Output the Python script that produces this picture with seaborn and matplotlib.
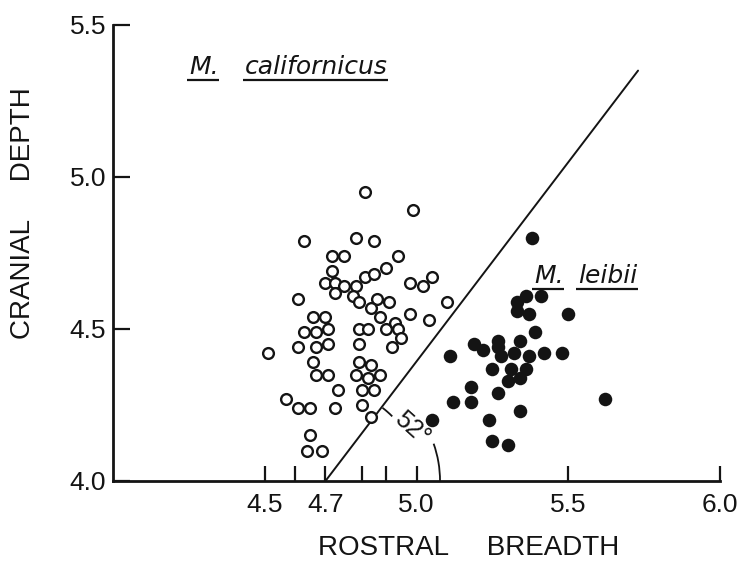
import numpy as np
import pandas as pd
import matplotlib
matplotlib.use("Agg")
import matplotlib.pyplot as plt
import seaborn as sns
from matplotlib.patches import Arc

# ---------------- data ----------------
calif_breadth = [4.83, 4.99, 4.63, 4.80, 4.86, 4.72, 4.76, 4.94, 4.72, 4.70,
                 4.73, 4.76, 4.73, 4.80, 4.79, 4.61, 4.83, 4.86, 4.90, 4.98,
                 5.02, 5.05, 4.87, 4.91, 4.81, 4.85, 4.88, 4.66, 4.70, 4.98,
                 5.04, 5.10, 4.63, 4.67, 4.71, 4.81, 4.84, 4.90, 4.93, 4.94,
                 4.95, 4.92, 4.81, 4.51, 4.61, 4.67, 4.71, 4.66, 4.81, 4.85,
                 4.80, 4.84, 4.88, 4.67, 4.71, 4.74, 4.82, 4.86, 4.57, 4.61,
                 4.65, 4.73, 4.82, 4.85, 4.65, 4.64, 4.69]
calif_depth = [4.95, 4.89, 4.79, 4.80, 4.79, 4.74, 4.74, 4.74, 4.69, 4.65,
               4.65, 4.64, 4.62, 4.64, 4.61, 4.60, 4.67, 4.68, 4.70, 4.65,
               4.64, 4.67, 4.60, 4.59, 4.59, 4.57, 4.54, 4.54, 4.54, 4.55,
               4.53, 4.59, 4.49, 4.49, 4.50, 4.50, 4.50, 4.50, 4.52, 4.50,
               4.47, 4.44, 4.45, 4.42, 4.44, 4.44, 4.45, 4.39, 4.39, 4.38,
               4.35, 4.34, 4.35, 4.35, 4.35, 4.30, 4.30, 4.30, 4.27, 4.24,
               4.24, 4.24, 4.25, 4.21, 4.15, 4.10, 4.10]

leibii_breadth = [5.38, 5.36, 5.33, 5.41, 5.33, 5.37, 5.50, 5.39, 5.19, 5.22,
                  5.27, 5.27, 5.28, 5.34, 5.32, 5.37, 5.42, 5.48, 5.11, 5.25,
                  5.31, 5.36, 5.34, 5.30, 5.18, 5.27, 5.12, 5.18, 5.62, 5.34,
                  5.24, 5.25, 5.30, 5.05]
leibii_depth = [4.80, 4.61, 4.59, 4.61, 4.56, 4.55, 4.55, 4.49, 4.45, 4.43,
                4.46, 4.44, 4.41, 4.46, 4.42, 4.41, 4.42, 4.42, 4.41, 4.37,
                4.37, 4.37, 4.34, 4.33, 4.31, 4.29, 4.26, 4.26, 4.27, 4.23,
                4.20, 4.13, 4.12, 4.20]

x_ticks = [4.5, 4.6, 4.7, 4.82, 4.9, 5.0, 5.5, 6.0]
x_tick_labels = ["4.5", "", "4.7", "", "", "5.0", "5.5", "6.0"]
y_ticks = [4.0, 4.5, 5.0, 5.5]
y_tick_labels = ["4.0", "4.5", "5.0", "5.5"]

divider_breadth = [4.7, 5.73]
divider_depth = [4.0, 5.35]
angle_label = "52°"

x_label = "ROSTRAL     BREADTH"
y_label = "CRANIAL     DEPTH"

# ---------------- plot ----------------
sns.set_theme(style="ticks")
plt.rcParams['font.family'] = ['Liberation Sans', 'DejaVu Sans']
ink = "#141414"

fig = plt.figure(figsize=(7.46, 5.62), dpi=100)
fig.patch.set_facecolor("white")
ax = fig.add_axes([113 / 746, 1 - 481 / 562, 607 / 746, 456 / 562])
ax.set_facecolor("white")

df_c = pd.DataFrame({"breadth": calif_breadth, "depth": calif_depth})
df_l = pd.DataFrame({"breadth": leibii_breadth, "depth": leibii_depth})

sns.scatterplot(data=df_c, x="breadth", y="depth", ax=ax, marker="o", s=60,
                facecolor="white", edgecolor=ink, linewidth=1.7, zorder=3,
                legend=False)
sns.scatterplot(data=df_l, x="breadth", y="depth", ax=ax, marker="o", s=95,
                color=ink, edgecolor=ink, linewidth=0, zorder=3, legend=False)

ax.plot(divider_breadth, divider_depth, color=ink, lw=1.4, zorder=2)

# angle marks
rx, ry = 1 / 302, 1 / 306
ax.add_patch(Arc((divider_breadth[0], divider_depth[0]), 2 * 114 * rx, 2 * 114 * ry,
                 theta1=0, theta2=19, color=ink, lw=1.3))
ax.add_patch(Arc((divider_breadth[0], divider_depth[0]), 2 * 93 * rx, 2 * 93 * ry,
                 theta1=44, theta2=52, color=ink, lw=1.3))
ax.text(4.985, 4.172, angle_label, rotation=-42, ha="center", va="center",
        rotation_mode="anchor", fontsize=18, color=ink, zorder=4,
        bbox=dict(facecolor="white", edgecolor="none", pad=0.5))

ax.set_xlim(4.0, 6.0)
ax.set_ylim(4.0, 5.5)
ax.set_xticks(x_ticks)
ax.set_xticklabels(x_tick_labels)
ax.set_yticks(y_ticks)
ax.set_yticklabels(y_tick_labels)

for s in ["top", "right"]:
    ax.spines[s].set_visible(False)
for s in ["left", "bottom"]:
    ax.spines[s].set_linewidth(2.0)
    ax.spines[s].set_color(ink)

ax.tick_params(axis="x", direction="in", length=11, width=1.6, pad=9,
               labelsize=19, colors=ink)
ax.tick_params(axis="y", direction="in", length=12, width=1.6, pad=5,
               labelsize=19, colors=ink)

ax.set_xlabel(x_label, fontsize=20, color=ink)
ax.set_ylabel(y_label, fontsize=20, color=ink)
ax.xaxis.label.set_va("center")
ax.yaxis.label.set_va("center")
ax.xaxis.set_label_coords(0.5865, -0.147)
ax.yaxis.set_label_coords(-0.149, 0.5866)

# species labels
sp_kw = dict(fontsize=18, style="italic", family=["DejaVu Sans"], color=ink,
             ha="left", va="baseline")
texts = [
    ax.text(4.252, 5.340, "M.", **sp_kw),
    ax.text(4.434, 5.340, "californicus", **sp_kw),
    ax.text(5.387, 4.650, "M.", **sp_kw),
    ax.text(5.533, 4.650, "leibii", **sp_kw),
]

fig.canvas.draw()
rend = fig.canvas.get_renderer()
inv = ax.transData.inverted()
for t in texts:
    bb = t.get_window_extent(rend)
    _, yb = ax.transData.transform(t.get_position())
    yl = yb - 6
    (x0, y0), (x1, _) = inv.transform([(bb.x0 - 2, yl), (bb.x1, yl)])
    ax.plot([x0, x1], [y0, y0], color=ink, lw=1.6, solid_capstyle="butt",
            clip_on=False)

fig.savefig("out.png", dpi=100, facecolor="white")
